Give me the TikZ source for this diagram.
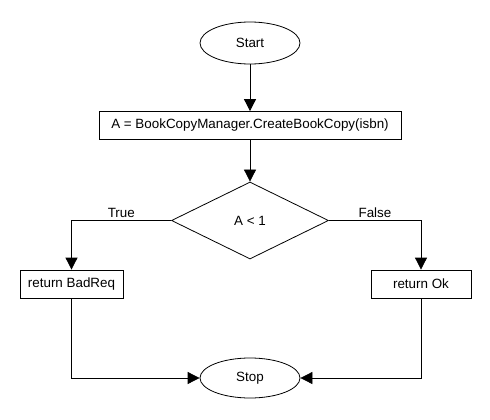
\documentclass[tikz,border=0pt]{standalone}
\usepackage{fontspec}
\setmainfont{Liberation Sans}
\usepackage{tikz}
\usetikzlibrary{shapes.geometric}
\usetikzlibrary{arrows.meta}
\usetikzlibrary{positioning}

\begin{document}
\begin{tikzpicture}[
  x=1pt, y=-1pt,
  every node/.style={draw, line width=0.8pt, font=\fontsize{13.4}{16}\selectfont, inner sep=2pt},
  terminal/.style={ellipse, minimum width=100pt, minimum height=42pt},
  process/.style={rectangle, minimum height=28pt},
  decision/.style={diamond, minimum width=157pt, minimum height=77pt},
  flow/.style={-{Triangle[length=12pt, width=12pt]}, line width=0.8pt},
  lbl/.style={draw=none, above},
]
\useasboundingbox (0,0) rectangle (490,420);

% Nodes
\node[terminal] (start)  at (250,43)    {Start};
\node[process, minimum width=302pt] (assign) at (250,125.5) {A = BookCopyManager.CreateBookCopy(isbn)};
\node[decision] (check)  at (250,220.5) {A < 1};
\node[process, minimum width=103pt] (badreq) at (71.5,284) {return BadReq};
\node[process, minimum width=100pt] (ok)     at (421,284) {return Ok};
\node[terminal, minimum height=40pt] (stop) at (250,378) {Stop};

% Main line
\draw[flow] (start) -- (assign);
\draw[flow] (assign) -- (check);

% Branches
\draw[flow] (check.west) -| node[lbl, pos=0.25] {True} (badreq.north);
\draw[flow] (check.east) -| node[lbl, pos=0.25] {False} (ok.north);

% Join at stop
\draw[flow] (badreq.south) |- (stop.west);
\draw[flow] (ok.south) |- (stop.east);

\end{tikzpicture}
\end{document}
